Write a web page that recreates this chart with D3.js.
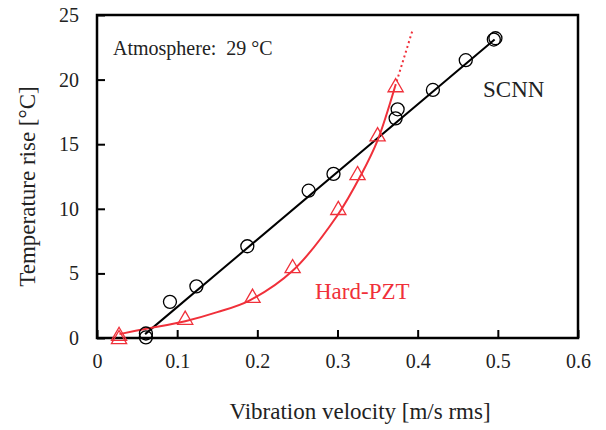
<!DOCTYPE html>
<html>
<head>
<meta charset="utf-8">
<script src="https://cdn.jsdelivr.net/npm/d3@7"></script>
<style>
  body { margin: 0; background: #fff; }
  text { font-family: "Liberation Serif", "Times New Roman", serif; }
</style>
</head>
<body>
<svg id="chart" width="606" height="430"></svg>
<script>
// values
const scnnX = [0.061, 0.061, 0.091, 0.124, 0.1875, 0.264, 0.295, 0.3725, 0.375, 0.419, 0.46, 0.495, 0.497];
const scnnY = [0.35, 0.05, 2.8, 4.0, 7.1, 11.4, 12.7, 17.0, 17.7, 19.2, 21.5, 23.1, 23.2];
const scnnFitX = [0.06, 0.496];
const scnnFitY = [0.3, 23.1];

const pztX = [0.0275, 0.0275, 0.11, 0.194, 0.244, 0.301, 0.325, 0.35, 0.3725];
const pztY = [0.15, -0.1, 1.4, 3.1, 5.4, 9.9, 12.6, 15.6, 19.4];
const pztCurveX = [0.028, 0.06, 0.11, 0.15, 0.19, 0.244, 0.3, 0.33, 0.35, 0.372];
const pztCurveY = [0.3, 0.7, 1.3, 2.0, 2.9, 5.2, 9.5, 12.7, 15.3, 19.5];
const pztDotX = [0.372, 0.394];
const pztDotY = [19.5, 23.9];

const xTicks = [0, 0.1, 0.2, 0.3, 0.4, 0.5, 0.6];
const yTicks = [0, 5, 10, 15, 20, 25];

const svg = d3.select("#chart");
const pLeft = 97, pRight = 578, pTop = 15, pBottom = 338;

const x = d3.scaleLinear().domain([0, 0.6]).range([pLeft, pRight]);
const y = d3.scaleLinear().domain([0, 25]).range([pBottom, pTop]);

// axes with inward ticks
svg.append('g')
    .attr('transform', `translate(0,${pBottom})`)
    .call(d3.axisBottom(x).tickValues(xTicks).tickSize(-8).tickPadding(16)
        .tickFormat(d => d === 0 ? "0" : d3.format(".1f")(d)))
    .call(g => g.select('.domain').remove())
    .call(g => g.selectAll('line').attr('stroke', "#000").attr('stroke-width', 2))
    .call(g => g.selectAll('text').attr('font-size', 20).attr('fill', "#222")
        .attr('font-family', '"Liberation Serif", serif'));

svg.append('g')
    .attr('transform', `translate(${pLeft},0)`)
    .call(d3.axisLeft(y).tickValues(yTicks).tickSize(-8).tickPadding(18))
    .call(g => g.select('.domain').remove())
    .call(g => g.selectAll('line').attr('stroke', "#000").attr('stroke-width', 2))
    .call(g => g.selectAll('text').attr('font-size', 20).attr('fill', "#222")
        .attr('font-family', '"Liberation Serif", serif'));

// frame
svg.append('rect')
    .attr('x', pLeft).attr('y', pTop)
    .attr('width', pRight - pLeft).attr('height', pBottom - pTop)
    .attr('fill', "none")
    .attr('stroke', "#000")
    .attr('stroke-width', 2.5);

const line = d3.line().x(d => x(d[0])).y(d => y(d[1]));
const red = "#f0303a";

// SCNN fit line
svg.append('path')
    .datum(d3.zip(scnnFitX, scnnFitY))
    .attr('d', line)
    .attr('fill', "none")
    .attr('stroke', "#000")
    .attr('stroke-width', 2);

// Hard-PZT curve
svg.append('path')
    .datum(d3.zip(pztCurveX, pztCurveY))
    .attr('d', d3.line().x(d => x(d[0])).y(d => y(d[1])).curve(d3.curveCatmullRom))
    .attr('fill', "none")
    .attr('stroke', red)
    .attr('stroke-width', 2);

svg.append('path')
    .datum(d3.zip(pztDotX, pztDotY))
    .attr('d', line)
    .attr('fill', "none")
    .attr('stroke', red)
    .attr('stroke-width', 2)
    .attr('stroke-dasharray', "2,3");

// markers
svg.append('g').selectAll('circle')
    .data(d3.zip(scnnX, scnnY))
    .join('circle')
    .attr('cx', d => x(d[0]))
    .attr('cy', d => y(d[1]))
    .attr('r', 6.5)
    .attr('fill', "none")
    .attr('stroke', "#000")
    .attr('stroke-width', 1.3);

const tri = d3.symbol().type(d3.symbolTriangle).size(100);
svg.append('g').selectAll('path')
    .data(d3.zip(pztX, pztY))
    .join('path')
    .attr('transform', d => `translate(${x(d[0])},${y(d[1])})`)
    .attr('d', tri)
    .attr('fill', "none")
    .attr('stroke', red)
    .attr('stroke-width', 1.3);

// labels
svg.append('text')
    .attr('x', 113).attr('y', 55)
    .attr('font-size', 20).attr('fill', "#222")
    .attr('xml:space', "preserve")
    .text("Atmosphere:  29 °C");

svg.append('text')
    .attr('x', 483).attr('y', 97)
    .attr('font-size', 23).attr('fill', "#222")
    .text("SCNN");

svg.append('text')
    .attr('x', 315).attr('y', 299)
    .attr('font-size', 23).attr('fill', red)
    .text("Hard-PZT");

svg.append('text')
    .attr('x', 360).attr('y', 419)
    .attr('text-anchor', "middle")
    .attr('font-size', 23).attr('fill', "#222")
    .text("Vibration velocity [m/s rms]");

svg.append('text')
    .attr('transform', `translate(35,${(pTop + pBottom) / 2 + 10}) rotate(-90)`)
    .attr('text-anchor', "middle")
    .attr('font-size', 23).attr('fill', "#222")
    .text("Temperature rise [°C]");
</script>
</body>
</html>
